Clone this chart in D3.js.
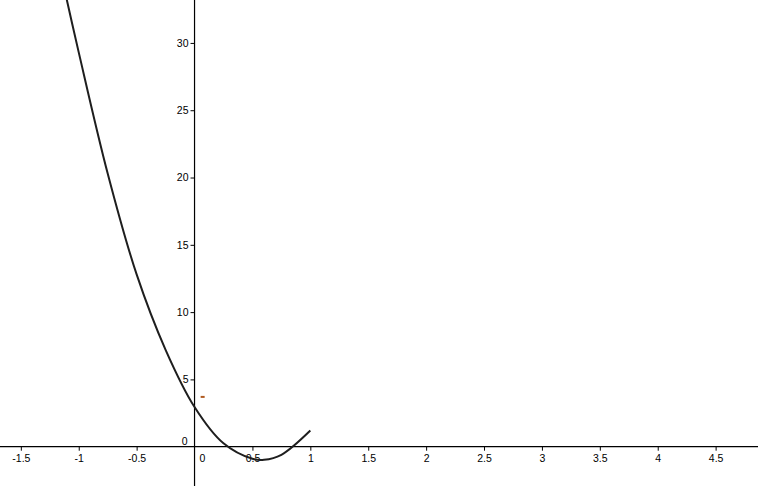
<!DOCTYPE html>
<html>
<head>
<meta charset="utf-8">
<script src="https://cdn.jsdelivr.net/npm/d3@7/dist/d3.min.js"></script>
<style>
  html, body { margin: 0; padding: 0; background: #fff; }
  svg { display: block; }
  text { font-family: "Liberation Sans", Arial, sans-serif; font-size: 10.5px; fill: #000; }
</style>
</head>
<body>
<svg id="chart" width="758" height="486"></svg>
<script>
// ---- data ----
const curveX = [-1.15, -1.0, -0.75, -0.5, -0.25, 0, 0.25, 0.5, 0.6, 0.75, 1.0];
const curveY = [35.0, 29.3, 20.3, 12.8, 7.2, 2.95, 0.25, -0.9, -0.97, -0.6, 1.2];
const xTicks = [-1.5, -1, -0.5, 0.5, 1, 1.5, 2, 2.5, 3, 3.5, 4, 4.5];
const yTicks = [5, 10, 15, 20, 25, 30];
const originLabel = "0";
const markPoint = [0.07, 3.7];

const W = 758, H = 486;
const svg = d3.select("#chart");

const x = d3.scaleLinear().domain([-1.68, 4.866]).range([0, W]);
const y = d3.scaleLinear().domain([33.19, -2.92]).range([0, H]);

const x0 = x(0), y0 = y(0);

// axes lines
svg.append("line").attr("x1", 0).attr("x2", W).attr("y1", y0).attr("y2", y0)
  .attr("stroke", "#000").attr("stroke-width", 1.2);
svg.append("line").attr("x1", x0).attr("x2", x0).attr("y1", 0).attr("y2", H)
  .attr("stroke", "#000").attr("stroke-width", 1.2);

// x axis ticks via d3 axis
const xAxis = d3.axisBottom(x).tickValues(xTicks).tickSize(4).tickPadding(4)
  .tickFormat(d => d3.format("")(d).replace("\u2212", "-"));
const gx = svg.append("g").attr("transform", `translate(0,${y0})`).call(xAxis);
gx.select(".domain").remove();
gx.selectAll(".tick line").attr("stroke", "#000");
gx.selectAll(".tick text").attr("font-size", 10.5).attr("font-family", "Liberation Sans, Arial, sans-serif").attr("fill", "#000");

const yAxis = d3.axisLeft(y).tickValues(yTicks).tickSize(4).tickPadding(2);
const gy = svg.append("g").attr("transform", `translate(${x0},0)`).call(yAxis);
gy.select(".domain").remove();
gy.selectAll(".tick line").attr("stroke", "#000");
gy.selectAll(".tick text").attr("font-size", 10.5).attr("font-family", "Liberation Sans, Arial, sans-serif").attr("fill", "#000");

// origin labels
svg.append("text").attr("x", x0 - 7).attr("y", y0 - 2).attr("text-anchor", "end").text(originLabel);
svg.append("text").attr("x", x0 + 8).attr("y", y0 + 15).attr("text-anchor", "middle").text(originLabel);

// curve
const pts = curveX.map((v, i) => [v, curveY[i]]);
const line = d3.line().x(d => x(d[0])).y(d => y(d[1])).curve(d3.curveCatmullRom.alpha(0.5));
svg.append("path").attr("d", line(pts)).attr("fill", "none")
  .attr("stroke", "#1e1e1e").attr("stroke-width", 2);

// small point marker
svg.append("rect").attr("x", x(markPoint[0]) - 2).attr("y", y(markPoint[1]) - 1)
  .attr("width", 4).attr("height", 2).attr("fill", "#b05a20");
</script>
</body>
</html>
